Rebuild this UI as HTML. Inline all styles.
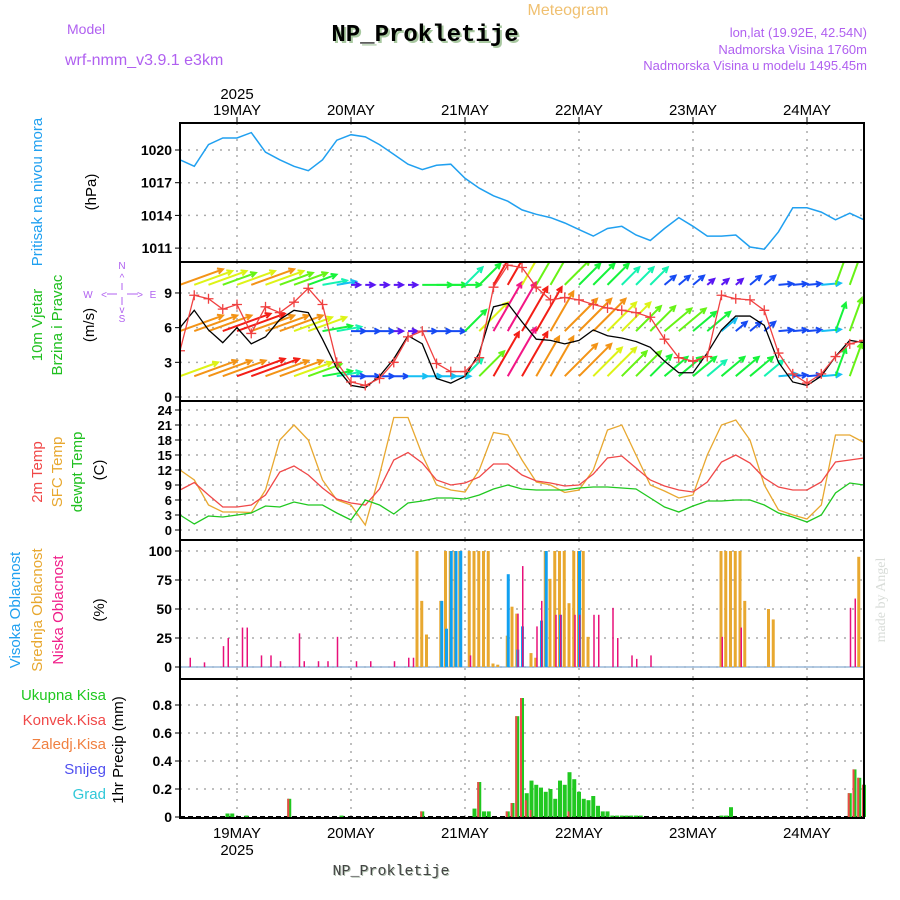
<!DOCTYPE html>
<html><head><meta charset="utf-8"><title>Meteogram NP_Prokletije</title>
<style>
html,body{margin:0;padding:0;background:#fff;}
svg{display:block;font-family:"Liberation Sans",sans-serif;}
</style></head>
<body>
<svg id="chart" width="900" height="900" viewBox="0 0 900 900" xmlns="http://www.w3.org/2000/svg">
<defs>
<clipPath id="clipWind"><rect x="180" y="263" width="684" height="137"/></clipPath>
</defs>
<text x="568" y="15" text-anchor="middle" font-size="16" fill="#f0c070">Meteogram</text>
<text x="67" y="34" font-size="14" fill="#b060f0">Model</text>
<text x="65" y="65" font-size="16" fill="#b060f0">wrf-nmm_v3.9.1 e3km</text>
<text x="427" y="43" text-anchor="middle" font-size="24" font-weight="bold" font-family="Liberation Mono, monospace" fill="#a8c8a0">NP_Prokletije</text>
<text x="425" y="41" text-anchor="middle" font-size="24" font-weight="bold" font-family="Liberation Mono, monospace" fill="#000">NP_Prokletije</text>
<text x="867" y="37" text-anchor="end" font-size="13" fill="#b060f0">lon,lat (19.92E, 42.54N)</text>
<text x="867" y="54" text-anchor="end" font-size="13" fill="#b060f0">Nadmorska Visina 1760m</text>
<text x="867" y="70" text-anchor="end" font-size="13" fill="#b060f0">Nadmorska Visina u modelu 1495.45m</text>

<text transform="translate(42,192) rotate(-90)" text-anchor="middle" font-size="15" fill="#20a0f0">Pritisak na nivou mora</text>
<text transform="translate(96,192) rotate(-90)" text-anchor="middle" font-size="15" fill="#000">(hPa)</text>
<text transform="translate(42,325) rotate(-90)" text-anchor="middle" font-size="15" fill="#20c020">10m Vjetar</text>
<text transform="translate(62,325) rotate(-90)" text-anchor="middle" font-size="15" fill="#20c020">Brzina i Pravac</text>
<text transform="translate(94,325) rotate(-90)" text-anchor="middle" font-size="15" fill="#000">(m/s)</text>
<g fill="#b060f0" stroke="#b060f0" font-size="10">
<text x="122" y="269" text-anchor="middle" stroke="none">N</text>
<text x="122" y="281" text-anchor="middle" stroke="none">^</text>
<line x1="122" y1="283" x2="122" y2="290"/><line x1="122" y1="297" x2="122" y2="305"/>
<line x1="107" y1="294" x2="117" y2="294"/><line x1="127" y1="294" x2="138" y2="294"/>
<text x="104" y="298" text-anchor="middle" stroke="none">&lt;</text>
<text x="140" y="298" text-anchor="middle" stroke="none">&gt;</text>
<text x="88" y="298" text-anchor="middle" stroke="none">W</text>
<text x="153" y="298" text-anchor="middle" stroke="none">E</text>
<text x="122" y="313" text-anchor="middle" stroke="none">v</text>
<text x="122" y="322" text-anchor="middle" stroke="none">S</text>
</g>
<text transform="translate(42,472) rotate(-90)" text-anchor="middle" font-size="15" fill="#f04848">2m Temp</text>
<text transform="translate(62,472) rotate(-90)" text-anchor="middle" font-size="15" fill="#e8a830">SFC Temp</text>
<text transform="translate(82,472) rotate(-90)" text-anchor="middle" font-size="15" fill="#20c020">dewpt Temp</text>
<text transform="translate(104,470) rotate(-90)" text-anchor="middle" font-size="15" fill="#000">(C)</text>
<text transform="translate(20,610) rotate(-90)" text-anchor="middle" font-size="15" fill="#20a0f0">Visoka Oblacnost</text>
<text transform="translate(42,610) rotate(-90)" text-anchor="middle" font-size="15" fill="#e8a830">Srednja Oblacnost</text>
<text transform="translate(63,610) rotate(-90)" text-anchor="middle" font-size="15" fill="#f0208a">Niska Oblacnost</text>
<text transform="translate(104,610) rotate(-90)" text-anchor="middle" font-size="15" fill="#000">(%)</text>
<g font-size="15" text-anchor="end">
<text x="106" y="700" fill="#20c820">Ukupna  Kisa</text>
<text x="106" y="725" fill="#f04848">Konvek.Kisa</text>
<text x="106" y="749" fill="#f08040">Zaledj.Kisa</text>
<text x="106" y="774" fill="#5050f0">Snijeg</text>
<text x="106" y="799" fill="#30c8d8">Grad</text>
</g>
<text transform="translate(123,750) rotate(-90)" text-anchor="middle" font-size="15" fill="#000">1hr Precip (mm)</text>
<text transform="translate(885,600) rotate(-90)" text-anchor="middle" font-size="14" font-family="Liberation Serif, serif" fill="#d8dcd8">made by Angel</text>
<text x="392" y="876" text-anchor="middle" font-size="15" font-family="Liberation Mono, monospace" fill="#b0c0b0">NP_Prokletije</text>
<text x="391" y="875" text-anchor="middle" font-size="15" font-family="Liberation Mono, monospace" fill="#444">NP_Prokletije</text>
<g id="grid"></g>
<g id="marks"></g>
<g id="frames"></g>
</svg>
<script>
// ---- data (3-hourly, from 18 May 12Z) ----
const dayLabels = ["19MAY","20MAY","21MAY","22MAY","23MAY","24MAY"];
const dayHours = [12,36,60,84,108,132];
const pressTicks = [1011,1014,1017,1020];
const windTicks = [0,3,6,9];
const tempTicks = [0,3,6,9,12,15,18,21,24];
const cloudTicks = [0,25,50,75,100];
const precipTicks = [0,0.2,0.4,0.6,0.8];
const pressure = [1019.1,1018.5,1020.5,1021.1,1021.1,1021.6,1019.8,1019.1,1018.5,1018.1,1019.1,1020.9,1021.4,1021.2,1020.5,1019.6,1018.7,1018.2,1018.6,1018.7,1017.4,1016.5,1015.8,1015.3,1014.5,1014.1,1013.8,1013.3,1012.7,1012.1,1012.8,1013.0,1012.2,1011.7,1012.8,1013.8,1013.0,1012.1,1012.1,1012.2,1011.1,1010.9,1012.5,1014.7,1014.7,1014.3,1013.6,1014.2,1013.6];
const windRed = [4.0,8.8,8.5,7.6,8.0,5.5,7.8,7.3,8.2,9.4,8.0,3.0,1.3,1.0,1.6,3.0,5.2,5.7,2.9,2.2,2.2,3.4,9.5,11.4,11.2,9.5,8.4,8.6,8.4,8.0,7.7,7.5,7.3,6.9,5.0,3.4,3.1,3.5,8.8,8.5,8.4,7.5,3.8,2.0,1.2,2.0,3.5,4.6,4.9];
const windBlack = [6.0,7.5,5.8,4.7,6.0,4.6,5.2,6.7,7.5,7.3,5.0,2.5,1.0,0.8,1.8,3.3,5.3,4.6,1.6,1.2,1.8,3.8,7.8,8.1,6.5,5.0,4.9,4.6,4.9,5.8,5.3,5.1,4.8,4.3,3.1,2.1,2.1,3.8,5.8,7.0,7.0,6.2,3.0,1.3,1.0,1.8,3.5,4.9,4.7];
const windAngle = [20,20,20,20,20,20,20,20,20,20,10,10,0,0,0,0,0,0,0,0,45,45,60,60,60,60,60,45,45,45,45,45,45,45,40,40,40,40,40,40,40,40,5,5,5,5,70,70,70];
const windSpdLow = [7,8,8,8,9,9,8,8,7,6,5,4,2,2,2,2,3,3,3,3,4,6,9,10,9,8,8,8,8,7,7,6,6,5,5,5,5,4,5,5,5,4,3,2,2,3,5,6,6];
const windSpdMid = [8,8,8,9,9,8,8,8,7,7,5,4,2,2,2,1,1,2,2,2,5,7,10,10,9,9,8,8,8,8,7,7,6,6,6,6,5,5,3,2,2,2,2,2,2,3,5,6,6];
const windSpdTop = [8,7,7,6,7,8,7,6,6,5,4,3,1,1,1,1,1,5,5,5,4,5,9,9,7,6,6,6,5,5,5,4,4,4,2,2,2,1,1,1,2,2,2,2,2,3,6,6,6];
const windRowLevels = [1.8,5.7,9.7];
const tempSfc = [12,10,5,3.6,3.6,3.5,8,18,21,18,10,6,5,1,11,22.5,22.5,15,9,8,7.6,12,19.5,19,14,9.6,9,7.5,8,12,20,21,15,9,7.8,6.4,7,15,21,22,18,9,4,3,2.2,5,19,19,17.5];
const temp2m = [8,9.5,7,4.6,4.6,5,7,11.6,12.8,11,8.4,6.2,5.4,5,8.2,14,15.5,13.4,10,9,9.4,10.6,13.2,13.2,11,9.8,9.4,8.8,9,11.2,14.4,14.8,12.4,10,8.8,8,7.6,9.6,13.6,15,13.4,10.4,8.6,8,8,9.6,13.6,14,14.4];
const tempDew = [3,1.2,2.8,2.6,3,3.4,4.8,4.6,5.6,5,5,3.4,2,6,5,3.2,5.4,5.8,6.4,6.4,6.2,7,8.2,9,8.2,8,8,8,8.4,8.6,8.6,8.4,8.2,6.4,4.6,3.6,4.8,5.8,5.8,6,6,5,3.4,2.6,1.6,3,7.4,9.4,9];
const cloudMidHours = [50,51,52,55,56,57,58,59,61,62,63,64,65,66,67,69,70,71,74,75,77,78,79,80,81,82,83,84,85,86,114,115,116,117,118,119,124,125,143];
const cloudMidValues = [100,57,28,57,100,100,100,100,100,100,100,100,100,3,2,27,52,46,12,8,100,76,100,100,100,55,100,100,100,26,100,100,100,100,100,57,50,41,95];
const cloudHighHours = [55,56,57,58,59,69,71,72,76,77,80,84];
const cloudHighValues = [57,33,100,100,100,80,15,35,40,100,45,100];
const cloudLowHours = [2,5,9,10,13,14,17,19,21,25,26,29,31,33,37,40,45,48,49,61,71,72,75,76,79,80,83,84,87,88,91,92,95,96,99,114,118,141,142];
const cloudLowValues = [8,4,18,25,34,34,10,10,5,29,5,5,5,26,5,5,5,8,8,10,46,87,35,57,45,45,45,45,45,45,51,25,10,7,10,26,34,51,59];
const precipHours = [10,11,14,23,34,51,62,63,64,65,69,70,71,72,73,74,75,76,77,78,79,80,81,82,83,84,85,86,87,88,89,90,91,92,93,94,95,96,97,114,115,116,141,142,143,144];
const precipTotal = [0.025,0.025,0.01,0.13,0.01,0.04,0.06,0.25,0.04,0.04,0.04,0.1,0.72,0.85,0.17,0.26,0.23,0.21,0.18,0.2,0.13,0.26,0.23,0.32,0.27,0.18,0.13,0.12,0.15,0.08,0.04,0.04,0.01,0.01,0.01,0.01,0.01,0.01,0.01,0.01,0.01,0.07,0.17,0.34,0.28,0.23];
const convHours = [23,51,63,69,70,71,72,73,74,82,141,142,143,144];
const convValues = [0.13,0.04,0.25,0.04,0.1,0.72,0.85,0.12,0.05,0.04,0.17,0.34,0.28,0.23];

const X0 = 180, X1 = 864;
const xH = h => X0 + h * (X1 - X0) / 144;
const yP = p => 150 + (1020 - p) * 10.9;
const yW = v => 397 - v * 11.56;
const yT = t => 530 - 5 * t;
const yC = c => 667 - 1.16 * c;
const yR = r => 817 - 140 * r;
const panels = [[123,262],[262,401],[401,540],[540,679],[679,818]];

const NS = "http://www.w3.org/2000/svg";
const grid = document.getElementById('grid');
const marks = document.getElementById('marks');
const frames = document.getElementById('frames');
function el(tag, parent, attrs) {
  const e = document.createElementNS(NS, tag);
  for (const k in attrs) e.setAttribute(k, attrs[k]);
  parent.appendChild(e);
  return e;
}

dayHours.forEach((h, i) => {
  panels.forEach(p => {
    const g = el('line', grid, {x1: xH(h), x2: xH(h), y1: p[0], y2: p[1], stroke: '#aaa', 'stroke-width': 1.5, 'stroke-dasharray': '2,6'});
    
    
  });
  const tt = el('line', grid, {x1: xH(h), x2: xH(h), y1: 117, y2: 123, stroke: '#000'});
  
  
  const t1 = el('text', grid, {x: xH(h), y: 115, 'text-anchor': 'middle', 'font-size': 15});
  t1.textContent = dayLabels[i];
  
  
  const t2 = el('text', grid, {x: xH(h), y: 838, 'text-anchor': 'middle', 'font-size': 15});
  t2.textContent = dayLabels[i];
  
  
});
const yr1 = el('text', grid, {x: xH(12), y: 99, 'text-anchor': 'middle', 'font-size': 15});
yr1.textContent = '2025';


const yr2 = el('text', grid, {x: xH(12), y: 855, 'text-anchor': 'middle', 'font-size': 15});
yr2.textContent = '2025';



function yAxis(ticks, sc, name, fmt, fs) {
  ticks.forEach(v => {
    const y = sc(v);
    const g = el('line', grid, {x1: X0, x2: X1, y1: y, y2: y, stroke: '#aaa', 'stroke-width': 1.5, 'stroke-dasharray': '2,6'});
    
    
    const tk = el('line', grid, {x1: X0 - 5, x2: X0, y1: y, y2: y, stroke: '#000'});
    
    
    const t = el('text', grid, {x: X0 - 8, y: y + 5, 'text-anchor': 'end', 'font-size': fs || 14, 'font-weight': 'bold'});
    t.textContent = fmt ? fmt(v) : v;
    
    
  });
}
yAxis(pressTicks, yP, 'pressure');
yAxis(windTicks, yW, 'wind');
yAxis(tempTicks, yT, 'temp', null, 13);
yAxis(cloudTicks, yC, 'cloud');
yAxis(precipTicks, yR, 'precip', v => v === 0 ? '0' : v.toFixed(1));

function line(vals, sc, color, name, w) {
  const pts = vals.map((v, k) => xH(3 * k).toFixed(1) + ',' + sc(v).toFixed(1)).join(' ');
  const p = el('polyline', marks, {points: pts, fill: 'none', stroke: color, 'stroke-width': w || 1.3});
  
  
  return p;
}
line(pressure, yP, '#20a0f0', 'pressure-line', 1.5);

const windG = el('g', marks, {'clip-path': 'url(#clipWind)'});


function spdColor(s) { let h = 290 - s * 32; if (h < 0) h += 360; return 'hsl(' + h + ',90%,52%)'; }
[windSpdLow, windSpdMid, windSpdTop].forEach((spd, r) => {
  spd.forEach((s, k) => {
    const x0 = xH(3 * k), y0 = yW(windRowLevels[r]);
    const a = windAngle[k] * Math.PI / 180, len = s * 5.2 + 4;
    const x1 = x0 + len * Math.cos(a), y1 = y0 - len * Math.sin(a);
    const c = spdColor(s);
    const h1 = a + Math.PI * 0.85, h2 = a - Math.PI * 0.85;
    const d = 'M' + x0 + ',' + y0 + 'L' + x1 + ',' + y1 +
      'M' + (x1 + 6 * Math.cos(h1)) + ',' + (y1 - 6 * Math.sin(h1)) + 'L' + x1 + ',' + y1 +
      'L' + (x1 + 6 * Math.cos(h2)) + ',' + (y1 - 6 * Math.sin(h2));
    const p = el('path', windG, {d: d, stroke: c, 'stroke-width': 2, fill: 'none'});
    
    
  });
});
const wg2 = el('g', marks, {'clip-path': 'url(#clipWind)'});


const blk = el('polyline', wg2, {points: windBlack.map((v, k) => xH(3 * k) + ',' + yW(v)).join(' '), fill: 'none', stroke: '#000', 'stroke-width': 1.3});


const red = el('polyline', wg2, {points: windRed.map((v, k) => xH(3 * k) + ',' + yW(v)).join(' '), fill: 'none', stroke: '#f04040', 'stroke-width': 1.3});


windRed.forEach((v, k) => {
  const x = xH(3 * k), y = yW(v);
  const m = el('path', wg2, {d: 'M' + (x - 5) + ',' + y + 'H' + (x + 5) + 'M' + x + ',' + (y - 5) + 'V' + (y + 5), stroke: '#f04040', 'stroke-width': 1.3});
  
  
});

line(tempSfc, yT, '#e8a830', 'sfc-temp-line');
line(temp2m, yT, '#f04848', 'temp-2m-line');
line(tempDew, yT, '#20c820', 'dewpoint-line');

const cb = el('line', marks, {x1: X0, x2: X1, y1: 667, y2: 667, stroke: '#9ab8d8', 'stroke-width': 1.5});


function bars(hours, vals, sc, color, w, off, name) {
  hours.forEach((h, i) => {
    const y = sc(vals[i]), y0 = sc(0);
    const r = el('rect', marks, {x: xH(h) + off, y: y, width: w, height: Math.max(0, y0 - y), fill: color});
    
    
  });
}
bars(cloudMidHours, cloudMidValues, yC, '#e8a830', 3, -2, 'cloud-mid-bar');
bars(cloudHighHours, cloudHighValues, yC, '#10a0f0', 3, -1, 'cloud-high-bar');
bars(cloudLowHours, cloudLowValues, yC, '#e8107a', 1.5, 0, 'cloud-low-bar');

const pb = el('line', marks, {x1: X0, x2: X1, y1: 817, y2: 817, stroke: '#000', 'stroke-width': 2, 'stroke-dasharray': '5,3'});


bars(precipHours, precipTotal, yR, '#20c820', 4, -2, 'precip-total-bar');
bars(convHours, convValues, yR, '#f04848', 2, -2, 'precip-convective-bar');

panels.forEach((p, i) => {
  const r = el('rect', frames, {x: X0, y: p[0], width: X1 - X0, height: p[1] - p[0], fill: 'none', stroke: '#000', 'stroke-width': 2});
  
  
});
</script>
</body></html>
